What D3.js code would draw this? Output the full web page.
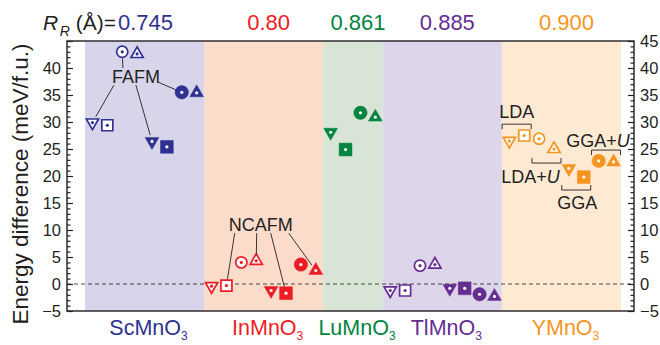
<!DOCTYPE html>
<html><head><meta charset="utf-8">
<script src="https://cdn.jsdelivr.net/npm/d3@7"></script>
<style>body{margin:0;background:#fff} text{font-family:"Liberation Sans",Arial,Helvetica,sans-serif;fill:#231f20}</style>
</head><body><svg id="c" width="660" height="345"></svg>
<script>
// ---------------- data ----------------
const compounds = ["ScMnO", "InMnO", "LuMnO", "TlMnO", "YMnO"];
const radii = ["0.745", "0.80", "0.861", "0.885", "0.900"];
const methods = ["LDA", "LDA+U", "GGA", "GGA+U"];
const compoundMethods = [methods, methods, ["GGA", "GGA+U"], methods, methods];
// two values per method (first: triangle-down / circle, second: square / triangle-up)
const scMnO3 = [29.9, 29.4, 43.0, 42.6, 26.4, 25.4, 35.5, 35.4];
const inMnO3 = [-0.4, -0.3, 4.0, 4.3, -1.2, -1.7, 3.6, 2.5];
const luMnO3 = [28.1, 24.9, 31.7, 30.9];
const tlMnO3 = [-1.2, -1.2, 3.4, 3.6, -0.8, -0.8, -1.9, -2.3];
const yMnO3 = [26.5, 27.5, 26.9, 25.0, 21.4, 19.8, 22.8, 22.6];
const seriesValues = [scMnO3, inMnO3, luMnO3, tlMnO3, yMnO3];
const majorTicks = [-5, 0, 5, 10, 15, 20, 25, 30, 35, 40, 45];
const leftTickLabels = [-5, 0, 5, 10, 15, 20, 25, 30, 35, 40];

// ---------------- style ----------------
const colors = ["#2e3192", "#ed1c24", "#00843f", "#662d91", "#f7941d"];
const bgColors = ["#d8d5ea", "#fbdccb", "#d8e5d6", "#ddd5e9", "#fee9d3"];
const frame = {left: 67, right: 634, top: 41, bottom: 311};

const svg = d3.select("#c");
const totalSlots = d3.sum(seriesValues, v => v.length);
const x = d3.scaleLinear().domain([0, totalSlots]).range([85, 621]);
const y = d3.scaleLinear().domain([-5, 45]).range([frame.bottom, frame.top]);

let acc = 0;
const regions = compounds.map((c, i) => {
  const r = {i, name: c, start: acc, end: acc + seriesValues[i].length};
  acc = r.end; return r;
});

// background regions
svg.append("g").selectAll("rect").data(regions).join("rect")
  .attr("x", d => x(d.start)).attr("width", d => x(d.end) - x(d.start))
  .attr("y", frame.top).attr("height", frame.bottom - frame.top)
  .attr("fill", d => bgColors[d.i]);

// zero dashed line
svg.append("line").attr("x1", frame.left).attr("x2", frame.right)
  .attr("y1", y(0)).attr("y2", y(0))
  .attr("stroke", "#333").attr("stroke-width", 0.9).attr("stroke-dasharray", "4,3");

// points
const points = [];
regions.forEach(r => {
  const ms = compoundMethods[r.i];
  ms.forEach((m, k) => {
    [0, 1].forEach(j => {
      const v = seriesValues[r.i][2 * k + j];
      const open = (m === "LDA" || m === "LDA+U");
      const plain = (m === "LDA" || m === "GGA");
      const shape = plain ? (j === 0 ? "down" : "square") : (j === 0 ? "circle" : "up");
      points.push({c: r.i, method: m, idx: 2 * k + j, slot: r.start + 2 * k + j + 0.5, v, open, shape});
    });
  });
});

function markerPath(d) {
  if (d.shape === "circle") return d3.symbol(d3.symbolCircle, Math.PI * Math.pow(d.open ? 5.6 : 6.7, 2))();
  if (d.shape === "square") return d3.symbol(d3.symbolSquare, Math.pow(d.open ? 11 : 12.8, 2))();
  const s = d.open ? 12.2 : 13.8;
  return d3.symbol(d3.symbolTriangle, Math.sqrt(3) / 4 * s * s)();
}

const mg = svg.append("g").selectAll("g").data(points).join("g")
  .attr("transform", d => `translate(${x(d.slot)},${y(d.v)})`);
mg.append("path")
  .attr("d", markerPath)
  .attr("transform", d => d.shape === "down" ? "rotate(180)" : null)
  .attr("fill", d => d.open ? "#fff" : colors[d.c])
  .attr("stroke", d => colors[d.c])
  .attr("stroke-width", d => d.open ? 1.7 : 0.5)
  .attr("stroke-linejoin", "miter");
mg.append("circle").attr("r", 1.6)
  .attr("fill", d => d.open ? colors[d.c] : "#fff");

// annotations (pointer labels)
function findPoint(c, idx) { return points.find(p => p.c === c && p.idx === idx); }
const pointerLabels = [
  {text: "FAFM", c: 0, slot: 3.42, v: 37.2, links: [[2, -13, -15], [0, -22, 2], [4, 0, 2], [6, 22, -1]]},
  {text: "NCAFM", c: 1, slot: 11.8, v: 9.8, links: [[1, -26, 2], [3, -4, 2], [5, 10, 2], [7, 28, 2]]}
];
pointerLabels.forEach(a => {
  const lx = x(a.slot), ly = y(a.v);
  svg.append("text").attr("x", lx).attr("y", ly).attr("text-anchor", "middle")
    .attr("font-size", 18).text(a.text);
  a.links.forEach(([idx, dx, dy]) => {
    const p = findPoint(a.c, idx);
    const px = x(p.slot), py = y(p.v);
    const sx = lx + dx, sy = ly + dy;
    const len = Math.hypot(px - sx, py - sy);
    const gap = 6.6;
    svg.append("line").attr("x1", sx).attr("y1", sy)
      .attr("x2", px - (px - sx) / len * gap).attr("y2", py - (py - sy) / len * gap)
      .attr("stroke", "#231f20").attr("stroke-width", 0.9);
  });
});

// method brackets for YMnO3
const brackets = [
  {text: "LDA", pair: 0, v: 29.6, dir: 1, tx: 0, ty: -6, italicU: false},
  {text: "LDA+", pair: 1, v: 22.4, dir: -1, tx: -16, ty: 20, italicU: true},
  {text: "GGA", pair: 2, v: 17.4, dir: -1, tx: 1, ty: 19, italicU: false},
  {text: "GGA+", pair: 3, v: 24.8, dir: 1, tx: -8, ty: -3, italicU: true}
];
const yr = regions[4];
brackets.forEach(b => {
  const x1 = x(yr.start + 2 * b.pair + 0.02), x2 = x(yr.start + 2 * b.pair + 1.97);
  const by = y(b.v);
  const t = b.dir * 5;
  svg.append("path").attr("d", `M${x1},${by + t}V${by}H${x2}V${by + t}`)
    .attr("fill", "none").attr("stroke", "#231f20").attr("stroke-width", 0.9);
  const tx = svg.append("text").attr("x", (x1 + x2) / 2 + b.tx).attr("y", by + b.ty)
    .attr("text-anchor", "middle").attr("font-size", 18);
  tx.append("tspan").text(b.text);
  if (b.italicU) tx.append("tspan").attr("font-style", "italic").text("U");
});

// frame
svg.append("rect").attr("x", frame.left).attr("y", frame.top)
  .attr("width", frame.right - frame.left).attr("height", frame.bottom - frame.top)
  .attr("fill", "none").attr("stroke", "#231f20").attr("stroke-width", 1.4);

// axes (inward ticks)
const minorTicks = d3.range(-5, 46, 1).filter(t => t % 5 !== 0);
function addAxis(gen, xpos, labelled) {
  const g = svg.append("g").attr("transform", `translate(${xpos},0)`)
    .call(gen(y).tickValues(majorTicks)
      .tickFormat(d => labelled.includes(d) ? d3.format("d")(d) : "")
      .tickSizeInner(-6).tickSizeOuter(0).tickPadding(6));
  g.select(".domain").remove();
  g.selectAll("text").attr("font-size", 16.5).attr("font-family", "'Liberation Sans',Arial,sans-serif").attr("fill", "#231f20");
  g.selectAll("line").attr("stroke", "#231f20").attr("stroke-width", 1.2);
  const g2 = svg.append("g").attr("transform", `translate(${xpos},0)`)
    .call(gen(y).tickValues(minorTicks).tickFormat("").tickSizeInner(-3.5).tickSizeOuter(0));
  g2.select(".domain").remove();
  g2.selectAll("line").attr("stroke", "#231f20").attr("stroke-width", 1.2);
}
addAxis(d3.axisLeft, frame.left, leftTickLabels);
addAxis(d3.axisRight, frame.right, majorTicks);

// y title
svg.append("text").attr("transform", `translate(28,${(frame.top + frame.bottom) / 2 + 8}) rotate(-90)`)
  .attr("text-anchor", "middle").attr("font-size", 22.5).text("Energy difference (meV/f.u.)");

// top radius labels
const rl = svg.append("text").attr("x", 116).attr("y", 30).attr("text-anchor", "end").attr("font-size", 21);
rl.append("tspan").attr("font-style", "italic").text("R");
rl.append("tspan").attr("font-style", "italic").attr("font-size", 14).attr("dx", 1.5).attr("dy", 6).text("R");
rl.append("tspan").attr("dy", -6).text(" (Å)=");
svg.append("g").selectAll("text").data(regions).join("text")
  .attr("x", d => d.i === 0 ? 118 : (x(d.start) + x(d.end)) / 2 + 5).attr("y", 30)
  .attr("text-anchor", d => d.i === 0 ? "start" : "middle").attr("font-size", 22)
  .style("fill", d => colors[d.i]).text(d => radii[d.i]);

// bottom compound labels
const bl = svg.append("g").selectAll("text").data(regions).join("text")
  .attr("x", d => (x(d.start) + x(d.end)) / 2 + 4).attr("y", 335)
  .attr("text-anchor", "middle").attr("font-size", 21.5)
  .style("fill", d => colors[d.i]);
bl.append("tspan").text(d => d.name);
bl.append("tspan").attr("font-size", 12).attr("dy", 5).text("3");
</script></body></html>
